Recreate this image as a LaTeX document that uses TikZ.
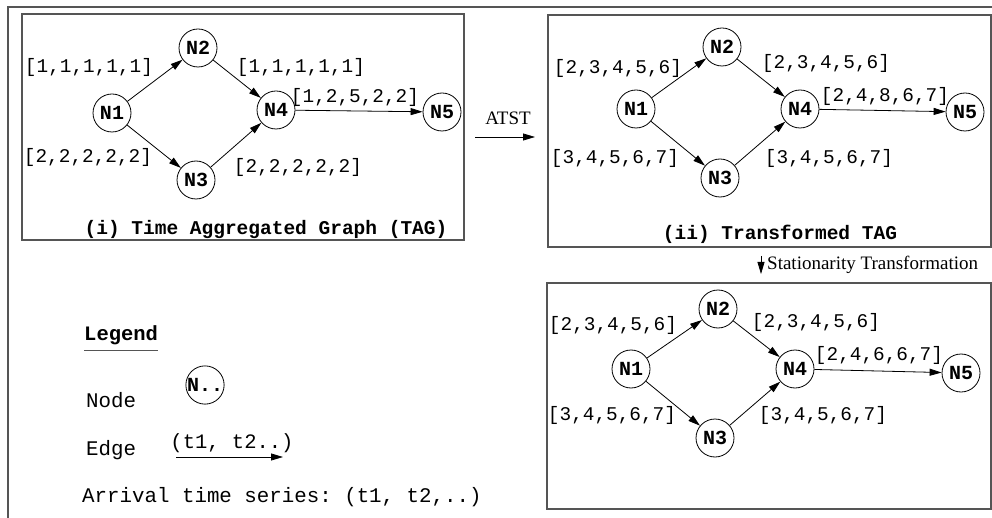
\documentclass[tikz,border=0pt]{standalone}
\usepackage{fontspec}
\setmainfont{Liberation Serif}
\setmonofont{Liberation Mono}
\usetikzlibrary{arrows.meta}
\definecolor{tagframe}{HTML}{555555}

\begin{document}
\begin{tikzpicture}[x=1pt, y=-1pt,
  vertex/.style={circle, draw, line width=0.8pt, minimum size=38pt, inner sep=0pt,
                 font=\fontsize{20}{20}\selectfont\ttfamily\bfseries},
  timeseries/.style={inner sep=0pt, font=\fontsize{19.4}{20}\selectfont\ttfamily},
  paneltitle/.style={inner sep=0pt, font=\fontsize{19.5}{20}\selectfont\ttfamily\bfseries},
  legendtext/.style={inner sep=0pt, anchor=west, font=\fontsize{20.8}{21}\selectfont\ttfamily},
  opname/.style={inner sep=0pt, font=\fontsize{19}{20}\selectfont\rmfamily},
  panel/.style={draw=tagframe, line width=1.5pt},
  arr/.style={-{Triangle[length=12pt, width=7pt]}, line width=0.8pt}]

\useasboundingbox (0,0) rectangle (992,518);
\draw[panel] (8,518) -- (8,7) -- (992,7);

% (i) time aggregated graph
\draw[panel] (22,14) rectangle (464,240);
\node[vertex] (tag1) at (112,113) {N1};
\node[vertex] (tag2) at (198,48) {N2};
\node[vertex] (tag3) at (196,180) {N3};
\node[vertex] (tag4) at (276,110) {N4};
\node[vertex] (tag5) at (442,112) {N5};
\draw[arr] (tag1) -- (tag2);
\draw[arr] (tag1) -- (tag3);
\draw[arr] (tag2) -- (tag4);
\draw[arr] (tag3) -- (tag4);
\draw[arr] (tag4) -- (tag5);
\node[timeseries] (tag12) at (89,67) {[1,1,1,1,1]};
\node[timeseries] (tag13) at (88,157) {[2,2,2,2,2]};
\node[timeseries] (tag24) at (301,67) {[1,1,1,1,1]};
\node[timeseries] (tag34) at (298,167) {[2,2,2,2,2]};
\node[timeseries] (tag45) at (355,97) {[1,2,5,2,2]};
\node[paneltitle] (tagtitle) at (266,230) {(i) Time Aggregated Graph (TAG)};

% ATST step
\coordinate (atstfrom) at (475,137);
\coordinate (atstto) at (535,137);
\draw[arr] (atstfrom) -- (atstto);
\node[opname] (atst) at (508,118) {ATST};

% (ii) transformed TAG
\draw[panel] (548,15) rectangle (991,247);
\node[vertex] (trn1) at (636,109) {N1};
\node[vertex] (trn2) at (722,47) {N2};
\node[vertex] (trn3) at (720,178) {N3};
\node[vertex] (trn4) at (800,109) {N4};
\node[vertex] (trn5) at (965,112) {N5};
\draw[arr] (trn1) -- (trn2);
\draw[arr] (trn1) -- (trn3);
\draw[arr] (trn2) -- (trn4);
\draw[arr] (trn3) -- (trn4);
\draw[arr] (trn4) -- (trn5);
\node[timeseries] (trn12) at (618,68) {[2,3,4,5,6]};
\node[timeseries] (trn13) at (615,158) {[3,4,5,6,7]};
\node[timeseries] (trn24) at (826,63) {[2,3,4,5,6]};
\node[timeseries] (trn34) at (829,158) {[3,4,5,6,7]};
\node[timeseries] (trn45) at (885,96) {[2,4,8,6,7]};
\node[paneltitle] (trntitle) at (780,234) {(ii) Transformed TAG};

% stationarity step
\coordinate (statfrom) at (761,256);
\coordinate (statto) at (761,274);
\draw[arr] (statfrom) -- (statto);
\node[opname, anchor=west] (stat) at (767,265) {Stationarity Transformation};

% stationary TAG
\draw[panel] (547,283) rectangle (991,509);
\node[vertex] (sta1) at (631,369) {N1};
\node[vertex] (sta2) at (718,309) {N2};
\node[vertex] (sta3) at (715,438) {N3};
\node[vertex] (sta4) at (795,369) {N4};
\node[vertex] (sta5) at (961,373) {N5};
\draw[arr] (sta1) -- (sta2);
\draw[arr] (sta1) -- (sta3);
\draw[arr] (sta2) -- (sta4);
\draw[arr] (sta3) -- (sta4);
\draw[arr] (sta4) -- (sta5);
\node[timeseries] (sta12) at (613,325) {[2,3,4,5,6]};
\node[timeseries] (sta13) at (612,415) {[3,4,5,6,7]};
\node[timeseries] (sta24) at (816,322) {[2,3,4,5,6]};
\node[timeseries] (sta34) at (823,415) {[3,4,5,6,7]};
\node[timeseries] (sta45) at (879,355) {[2,4,6,6,7]};

% legend
\node[legendtext, font=\fontsize{20.5}{21}\selectfont\ttfamily\bfseries] (legend) at (84,335) {Legend};
\draw[tagframe, line width=1pt] ([yshift=-6pt]legend.south west) -- ([yshift=-6pt]legend.south east);
\node[legendtext] (nodekey) at (86,400) {Node};
\node[vertex] (nodesym) at (205,385) {N..};
\node[legendtext] (edgekey) at (86,450) {Edge};
\coordinate (edgefrom) at (176,457);
\coordinate (edgeto) at (283,457);
\draw[arr] (edgefrom) -- (edgeto);
\node[timeseries, font=\fontsize{20.5}{21}\selectfont\ttfamily] (edgesym) at (232,443) {(t1, t2..)};
\node[legendtext] (arrival) at (82,497) {Arrival time series: (t1, t2,..)};
\end{tikzpicture}
\end{document}
